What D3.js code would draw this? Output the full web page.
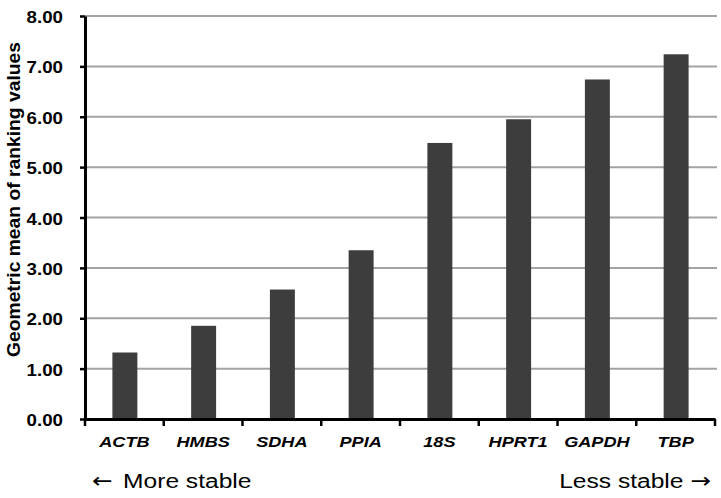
<!DOCTYPE html>
<html>
<head>
<meta charset="utf-8">
<script src="https://cdn.jsdelivr.net/npm/d3@7"></script>
<style>
html,body{margin:0;padding:0;background:#fff;}
svg{display:block;}
text{font-family:"Liberation Sans",Arial,sans-serif;fill:#000;}
</style>
</head>
<body>
<svg id="chart" width="721" height="498"></svg>
<script>
const genes = ["ACTB","HMBS","SDHA","PPIA","18S","HPRT1","GAPDH","TBP"];
const geoMean = [1.32,1.85,2.57,3.35,5.48,5.95,6.74,7.24];
const yTicks = [0,1,2,3,4,5,6,7,8];
const yLabel = "Geometric mean of ranking values";
const leftNote = "More stable";
const rightNote = "Less stable";
const leftArrow = "\u2190";
const rightArrow = "\u2192";

const plotL = 85, plotR = 715, plotT = 16, plotB = 419;
const sx = 1.17; // horizontal text stretch of the original image

const svg = d3.select("#chart");

const x = d3.scaleBand().domain(genes).range([plotL, plotR]).padding(0);
const y = d3.scaleLinear().domain([0, 8]).range([plotB, plotT]);

// gridlines
svg.append("g").selectAll("line").data(yTicks.filter(d => d > 0)).join("line")
  .attr("x1", plotL).attr("x2", plotR + 2)
  .attr("y1", d => y(d)).attr("y2", d => y(d))
  .attr("stroke", "#a3a3a3").attr("stroke-width", 2);

// bars
const barFrac = 0.317;
svg.append("g").selectAll("rect").data(genes).join("rect")
  .attr("x", (d) => x(d) + x.bandwidth() * (1 - barFrac) / 2 + 0.5)
  .attr("width", x.bandwidth() * barFrac)
  .attr("y", (d, i) => y(geoMean[i]))
  .attr("height", (d, i) => y(0) - y(geoMean[i]))
  .attr("fill", "#3d3d3d");

// y axis
const yAxis = d3.axisLeft(y).tickValues(yTicks).tickFormat(d3.format(".2f"))
  .tickSizeInner(5).tickSizeOuter(0).tickPadding(0);
const gy = svg.append("g").attr("transform", `translate(${plotL},0)`).call(yAxis);
gy.select(".domain").attr("stroke", "#000").attr("stroke-width", 3);
gy.selectAll(".tick line").attr("stroke", "#000").attr("stroke-width", 2.5);
gy.selectAll(".tick text")
  .attr("x", null).attr("dy", null)
  .attr("transform", `translate(-22,6.5) scale(${sx},1)`)
  .style("font-size", "16px").style("font-weight", "bold")
  .attr("text-anchor", "end").attr("fill", "#000");

// x axis
const xAxis = d3.axisBottom(x).tickSize(0).tickPadding(0);
const gx = svg.append("g").attr("transform", `translate(0,${plotB})`).call(xAxis);
gx.select(".domain").attr("stroke", "#000").attr("stroke-width", 3);
gx.selectAll(".tick line").remove();
gx.selectAll(".tick text")
  .attr("y", null).attr("dy", null)
  .attr("transform", `translate(0,28) scale(${sx},1)`)
  .style("font-size", "15.5px").style("font-weight", "bold").style("font-style", "italic")
  .attr("fill", "#000");

// boundary tick marks on x axis
const bounds = genes.map(g => x(g)).concat([plotR]);
svg.append("g").selectAll("line").data(bounds).join("line")
  .attr("x1", d => d).attr("x2", d => d)
  .attr("y1", plotB).attr("y2", plotB + 7)
  .attr("stroke", "#000").attr("stroke-width", 2.5);

// y label
svg.append("text")
  .attr("transform", `translate(20,${(plotT + plotB) / 2 - 18}) rotate(-90)`)
  .attr("text-anchor", "middle")
  .attr("textLength", 315).attr("lengthAdjust", "spacingAndGlyphs")
  .style("font-size", "18px").style("font-weight", "bold")
  .text(yLabel);

// notes
const ln = svg.append("text")
  .attr("transform", `translate(92,488) scale(${sx},1)`)
  .attr("text-anchor", "start")
  .style("font-size", "21px");
ln.append("tspan").style("font-family", "'DejaVu Sans'").text(leftArrow);
ln.append("tspan").attr("dx", 9).text(leftNote);

const rn = svg.append("text")
  .attr("transform", `translate(711,488) scale(${sx},1)`)
  .attr("text-anchor", "end")
  .style("font-size", "21px");
rn.append("tspan").text(rightNote);
rn.append("tspan").attr("dx", 6).style("font-family", "'DejaVu Sans'").text(rightArrow);
</script>
</body>
</html>
